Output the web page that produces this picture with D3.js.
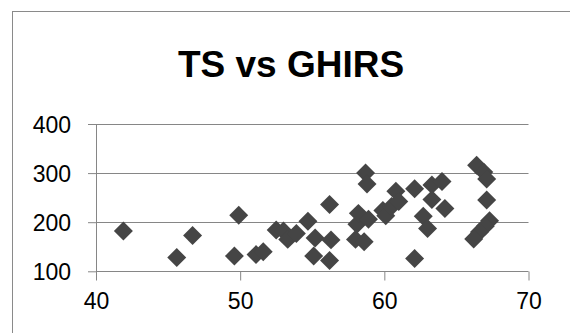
<!DOCTYPE html>
<html>
<head>
<meta charset="utf-8">
<script src="https://cdn.jsdelivr.net/npm/d3@7"></script>
<style>
  html, body { margin: 0; padding: 0; background: #fff; }
  svg { display: block; }
  text { font-family: "Liberation Sans", Arial, sans-serif; fill: #000; }
</style>
</head>
<body>
<svg id="chart" width="570" height="333"></svg>
<script>
// ---- data ----
const titleText = "TS vs GHIRS";
const tsValues = [41.9, 45.6, 46.7, 49.6, 49.9, 51.1, 51.6, 52.5, 53.0, 53.3, 53.9, 54.7, 55.2, 55.1, 56.2, 56.3, 56.2,
  58.0, 58.6, 58.1, 58.2, 58.9, 58.7, 58.8, 59.9, 60.1, 60.5, 60.8, 61.0, 62.1, 62.7, 63.0, 62.1, 63.3, 64.0, 63.3, 64.2,
  66.4, 66.9, 67.1, 67.1, 67.3, 67.0, 66.6, 66.2];
const ghirsValues = [182, 128, 173, 131, 214, 134, 140, 184, 182, 165, 177, 202, 168, 131, 236, 164, 122,
  165, 160, 196, 218, 206, 300, 278, 224, 213, 232, 263, 242, 268, 212, 187, 126, 276, 283, 246, 228,
  316, 302, 288, 245, 203, 192, 180, 166];
const xTicks = [40, 50, 60, 70];
const yTicks = [100, 200, 300, 400];

// ---- layout ----
const svg = d3.select("#chart");
const pLeft = 96, pRight = 528.5, pTop = 124, pBottom = 271.3;
const x = d3.scaleLinear().domain([40, 70]).range([pLeft, pRight]);
const y = d3.scaleLinear().domain([100, 400]).range([pBottom, pTop]);
const grey = "#868686";

// chart border (cropped at right/bottom)
svg.append("rect").attr("x", 12.5).attr("y", 11.5).attr("width", 600).attr("height", 400)
  .attr("fill", "none").attr("stroke", "#8a8a8a").attr("stroke-width", 1);

// title
svg.append("text").attr("x", 291).attr("y", 76.5).attr("text-anchor", "middle")
  .style("font-weight", "bold").style("font-size", "37px").text(titleText);

// gridlines
svg.append("g").selectAll("line").data(yTicks.filter(d => d !== 100)).join("line")
  .attr("x1", pLeft).attr("x2", pRight)
  .attr("y1", d => Math.round(y(d)) + 0.5).attr("y2", d => Math.round(y(d)) + 0.5)
  .attr("stroke", grey).attr("stroke-width", 1);

// y axis
const yAxis = svg.append("g").attr("transform", `translate(${pLeft + 0.5},0)`)
  .call(d3.axisLeft(y).tickValues(yTicks).tickSize(8.5).tickPadding(17).tickFormat(d3.format("d")));
yAxis.select(".domain").attr("stroke", grey).attr("d", `M0,${y(400)}V${pBottom}`);
yAxis.selectAll(".tick line").attr("stroke", grey);
yAxis.selectAll(".tick text").style("font-size", "23px").attr("fill", "#000").attr("dy", "0.36em");

// x axis
const xAxis = svg.append("g").attr("transform", `translate(0,${Math.round(pBottom) + 0.5})`)
  .call(d3.axisBottom(x).tickValues(xTicks).tickSize(9).tickPadding(12).tickFormat(d3.format("d")));
xAxis.select(".domain").attr("stroke", grey).attr("d", `M${pLeft},0H${pRight}`);
xAxis.selectAll(".tick line").attr("stroke", grey);
xAxis.selectAll(".tick text").style("font-size", "23px").attr("fill", "#000").attr("dy", "0.71em");

// points (diamonds)
const pts = tsValues.map((v, i) => ({ x: v, y: ghirsValues[i] }));
const sym = d3.symbol().type(d3.symbolSquare).size(180);
svg.append("g").selectAll("path").data(pts).join("path")
  .attr("d", sym)
  .attr("transform", d => `translate(${x(d.x)},${y(d.y)}) rotate(45)`)
  .attr("fill", "#454545");
</script>
</body>
</html>
